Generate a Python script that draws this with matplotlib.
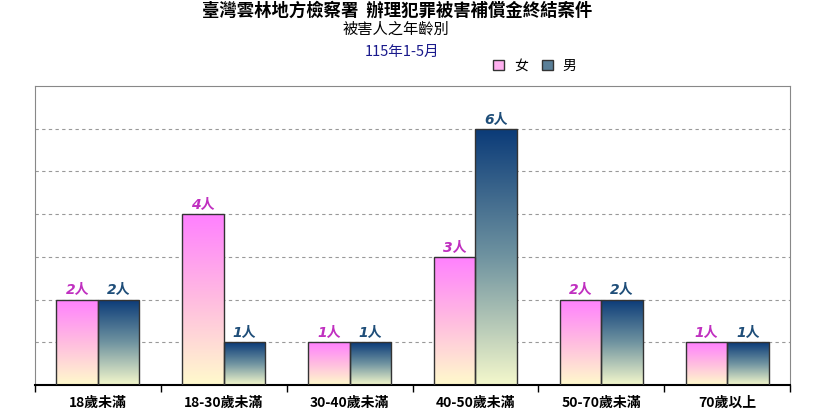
import numpy as np
import matplotlib.pyplot as plt
from matplotlib.colors import LinearSegmentedColormap
from matplotlib.patches import Patch

plt.rcParams['font.family'] = ['Noto Sans CJK TC', 'DejaVu Sans']

categories = ['18歲未滿', '18-30歲未滿', '30-40歲未滿', '40-50歲未滿', '50-70歲未滿', '70歲以上']
female = [2, 4, 1, 3, 2, 1]
male = [2, 1, 1, 6, 2, 1]

fem_cmap = LinearSegmentedColormap.from_list('fem', ['#fffacc', '#ffbce0', '#ff80ff'])
male_cmap = LinearSegmentedColormap.from_list('male', ['#f4f8cc', '#6f93a0', '#0a3a78'])

fig = plt.figure(figsize=(8.38, 4.19), dpi=100)
ax = fig.add_axes([35 / 838, 1 - 385 / 419, 755 / 838, 299 / 419])

x = np.arange(len(categories))
w = 0.33
grad = np.linspace(0, 1, 256).reshape(-1, 1)


def grad_bars(xs, vals, cmap):
    bars = ax.bar(xs, vals, w, facecolor='none', edgecolor='#333333', linewidth=1.0, zorder=3)
    for b in bars:
        x0, y0 = b.get_x(), b.get_y()
        im = ax.imshow(grad, extent=[x0, x0 + b.get_width(), y0, y0 + b.get_height()],
                       origin='lower', cmap=cmap, aspect='auto', zorder=2)
        im.set_clip_path(b)
    return bars


grad_bars(x - w / 2, female, fem_cmap)
grad_bars(x + w / 2, male, male_cmap)

lab_font = ['DejaVu Sans', 'Noto Sans CJK TC']
for xi, v in zip(x - w / 2, female):
    ax.text(xi, v + 0.05, f'{v}人', ha='center', va='bottom', color='#c030c0',
            fontsize=10, fontweight='bold', style='italic', family=lab_font)
for xi, v in zip(x + w / 2, male):
    ax.text(xi, v + 0.05, f'{v}人', ha='center', va='bottom', color='#1f4e79',
            fontsize=10, fontweight='bold', style='italic', family=lab_font)

ax.set_xlim(-0.5, len(categories) - 0.5)
ax.set_ylim(0, 7)
ax.set_yticks(range(1, 7))
ax.yaxis.grid(True, linestyle=(0, (3, 3)), color='#999999', linewidth=0.8)
ax.set_axisbelow(True)
ax.tick_params(axis='y', left=False, labelleft=False)

ax.set_xticks(x)
ax.set_xticklabels(categories, fontsize=10, fontweight='bold')
ax.tick_params(axis='x', length=0, pad=8)
ax.set_xticks(np.arange(-0.5, len(categories)), minor=True)
ax.tick_params(axis='x', which='minor', length=5, width=1, color='black', direction='out')

for s in ['left', 'top', 'right']:
    ax.spines[s].set_color('#888888')
    ax.spines[s].set_linewidth(0.8)
ax.spines['bottom'].set_color('black')
ax.spines['bottom'].set_linewidth(1.5)

fig.text(397 / 838, 1 - 11 / 419, '臺灣雲林地方檢察署  辦理犯罪被害補償金終結案件', ha='center', va='center',
         fontsize=12.5, fontweight='bold')
fig.text(396 / 838, 1 - 29 / 419, '被害人之年齡別', ha='center', va='center', fontsize=11)
fig.text(402 / 838, 1 - 52 / 419, '115年1-5月', ha='center', va='center', fontsize=10.5, color='#1a1a8c')

handles = [Patch(facecolor='#ffb0f0', edgecolor='#333333'), Patch(facecolor='#5a7f98', edgecolor='#333333')]
fig.legend(handles, ['女', '男'], loc='center', bbox_to_anchor=(535 / 838, 1 - 66 / 419), ncol=2,
           frameon=False, fontsize=10, handlelength=0.8, handleheight=0.8, columnspacing=1.0,
           handletextpad=0.7)

fig.savefig('out.png', dpi=100)
